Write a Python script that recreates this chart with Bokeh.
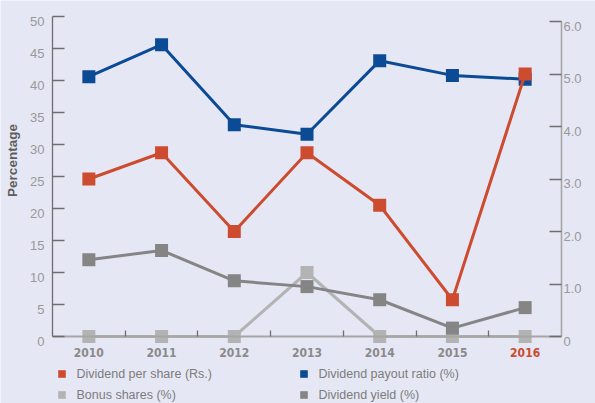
import math
from bokeh.plotting import figure
from bokeh.models import (Range1d, LinearAxis, FixedTicker, LabelSet, Label,
                          ColumnDataSource, Legend, LegendItem, CustomLabelingPolicy)
from bokeh.core.properties import value
from bokeh.embed import file_html
from bokeh.resources import INLINE

# ---------------- data ----------------
years = [2010, 2011, 2012, 2013, 2014, 2015, 2016]
year_labels = ["2010", "2011", "2012", "2013", "2014", "2015", "2016"]
dividend_per_share = [3.0, 3.5, 2.0, 3.5, 2.5, 0.7, 5.0]          # Rs. (right axis)
dividend_payout_ratio = [40.6, 45.6, 33.1, 31.6, 43.1, 40.8, 40.2]  # % (left axis)
bonus_shares = [0, 0, 0, 10, 0, 0, 0]                             # % (left axis)
dividend_yield = [1.46, 1.64, 1.06, 0.95, 0.70, 0.16, 0.55]       # % (right axis)

left_ticks = [0, 5, 10, 15, 20, 25, 30, 35, 40, 45, 50]
left_tick_labels = ["0", "5", "10", "15", "20", "25", "30", "35", "40", "45", "50"]
right_ticks = [0, 1, 2, 3, 4, 5, 6]
right_tick_labels = ["0", "1.0", "2.0", "3.0", "4.0", "5.0", "6.0"]

# ---------------- layout (pixels) ----------------
W, H = 595, 403
PL, PR, PT, PB = 52, 561, 16, 336      # plotting box inside the canvas
RIGHT_TOP = 21                          # pixel row of the right axis maximum

L_MAX, R_MAX = left_ticks[-1], right_ticks[-1]
kx = (PR - PL) / (years[-1] - years[0] + 1)
ky = (PB - PT) / L_MAX
kr = (PB - RIGHT_TOP) / R_MAX
x_lo, x_hi = years[0] - 0.5, years[-1] + 0.5

# ---------------- style ----------------
BG = "#E6E7F4"
RED = "#CD4B2E"
BLUE = "#0B4A94"
LGREY = "#B3B3B3"
DGREY = "#858585"
TXT = "#8A8A8A"
TICK_TXT = "#999999"
AXIS_DARK = "#6E6E6E"
AXIS_LIGHT = "#A6A6A6"

p = figure(width=W, height=H,
           x_range=Range1d(x_lo - PL / kx, x_hi + (W - PR) / kx),
           y_range=Range1d(-(H - PB) / ky, L_MAX + PT / ky),
           output_backend="svg", toolbar_location=None,
           min_border=0, min_border_left=0, min_border_right=0,
           min_border_top=0, min_border_bottom=0,
           background_fill_color=BG, border_fill_color=BG,
           outline_line_color=None)
p.extra_y_ranges = {"right": Range1d(-(H - PB) / kr, PB / kr)}
p.grid.visible = False

no_labels = CustomLabelingPolicy(code="return []")

# left axis
ya = p.yaxis[0]
ya.fixed_location = x_lo
ya.bounds = (0, L_MAX)
ya.ticker = FixedTicker(ticks=left_ticks)
ya.major_tick_in = 12
ya.major_tick_out = 0
ya.minor_tick_in = 0
ya.minor_tick_out = 0
ya.major_label_policy = no_labels
ya.axis_line_color = AXIS_DARK
ya.axis_line_width = 1.3
ya.major_tick_line_color = AXIS_DARK
ya.major_tick_line_width = 1.3

# right axis
ra = LinearAxis(y_range_name="right", ticker=FixedTicker(ticks=right_ticks),
                bounds=(0, R_MAX), fixed_location=x_hi)
ra.major_tick_in = 12
ra.major_tick_out = 0
ra.minor_tick_in = 0
ra.minor_tick_out = 0
ra.major_label_policy = no_labels
ra.axis_line_color = AXIS_LIGHT
ra.axis_line_width = 1.6
ra.major_tick_line_color = AXIS_DARK
ra.major_tick_line_width = 1.3
p.add_layout(ra, "right")

# bottom axis: small ticks between years
xa = p.xaxis[0]
xa.fixed_location = 0
xa.bounds = (x_lo, x_hi)
xa.ticker = FixedTicker(ticks=[y + 0.5 for y in years[:-1]])
xa.major_tick_in = 6
xa.major_tick_out = 0
xa.minor_tick_in = 0
xa.minor_tick_out = 0
xa.major_label_policy = no_labels
xa.axis_line_color = AXIS_LIGHT
xa.axis_line_width = 2
xa.major_tick_line_color = AXIS_DARK
xa.major_tick_line_width = 1.3

# ---------------- series ----------------
LW = 3
MS = 13
p.line(years, bonus_shares, line_color=LGREY, line_width=LW)
r_bonus = p.scatter(years, bonus_shares, marker="square", size=MS,
                    fill_color=LGREY, line_color=None)
p.line(years, dividend_yield, line_color=DGREY, line_width=LW, y_range_name="right")
r_yield = p.scatter(years, dividend_yield, marker="square", size=MS,
                    fill_color=DGREY, line_color=None, y_range_name="right")
p.line(years, dividend_payout_ratio, line_color=BLUE, line_width=LW)
r_payout = p.scatter(years, dividend_payout_ratio, marker="square", size=MS,
                     fill_color=BLUE, line_color=None)
p.line(years, dividend_per_share, line_color=RED, line_width=LW, y_range_name="right")
r_dps = p.scatter(years, dividend_per_share, marker="square", size=MS,
                  fill_color=RED, line_color=None, y_range_name="right")

# ---------------- tick labels ----------------
year_src = ColumnDataSource(dict(
    x=years, text=year_labels,
    color=[RED if y == years[-1] else TXT for y in years]))
p.add_layout(LabelSet(x="x", y=H - 352, y_units="screen", text="text", source=year_src,
                      text_color="color", text_align="center", text_baseline="middle",
                      text_font=value("DejaVu Sans Condensed"), text_font_style="bold",
                      text_font_size="12px"))

left_src = ColumnDataSource(dict(y=left_ticks, text=left_tick_labels))
p.add_layout(LabelSet(x=PL - 8, x_units="screen", y="y", text="text", source=left_src,
                      text_align="right", text_baseline="top", text_color=TICK_TXT,
                      text_font=value("Liberation Sans"), text_font_size="13px"))

right_src = ColumnDataSource(dict(y=right_ticks, text=right_tick_labels))
p.add_layout(LabelSet(x=PR + 2, x_units="screen", y="y", y_range_name="right",
                      text="text", source=right_src,
                      text_align="left", text_baseline="top", text_color=TICK_TXT,
                      text_font=value("Liberation Sans"), text_font_size="13px"))

p.add_layout(Label(x=12, y=H - 160, x_units="screen", y_units="screen", text="Percentage",
                   angle=math.pi / 2, text_align="center", text_baseline="middle",
                   text_color="#5E5E5E", text_font="Liberation Sans",
                   text_font_style="bold", text_font_size="13.5px"))

# ---------------- legends ----------------
def make_legend(items, loc):
    return Legend(items=items, location=loc, orientation="vertical",
                  glyph_width=19, glyph_height=19, label_standoff=6,
                  label_height=16, spacing=2, padding=0, margin=0,
                  border_line_color=None, background_fill_alpha=0,
                  label_text_font="Liberation Sans", label_text_font_size="12.5px",
                  label_text_color="#7C7C7C")

p.add_layout(make_legend([LegendItem(label="Dividend per share (Rs.)", renderers=[r_dps]),
                          LegendItem(label="Bonus shares (%)", renderers=[r_bonus])],
                         (51.5, -1)))
p.add_layout(make_legend([LegendItem(label="Dividend payout ratio (%)", renderers=[r_payout]),
                          LegendItem(label="Dividend yield (%)", renderers=[r_yield])],
                         (293.5, -1)))

open("out.html", "w").write(file_html(p, INLINE))
